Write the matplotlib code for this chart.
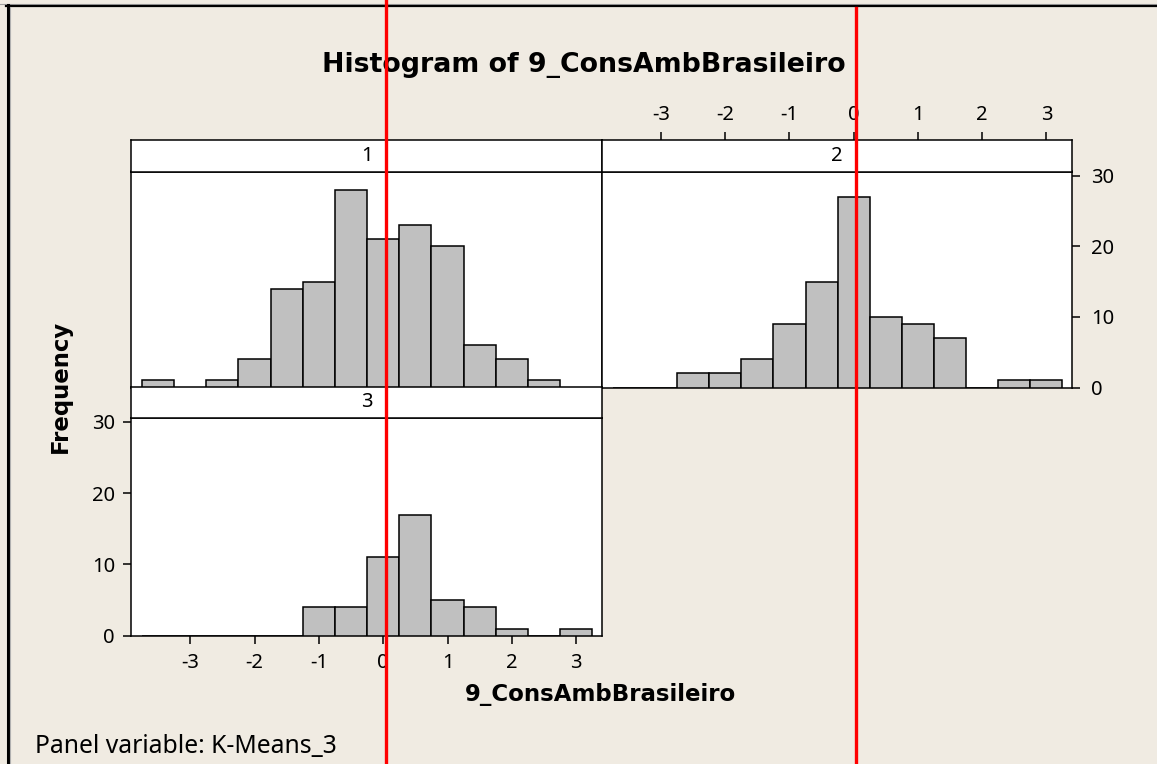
import matplotlib
matplotlib.use("Agg")
import matplotlib.pyplot as plt
from matplotlib.lines import Line2D
from matplotlib.transforms import blended_transform_factory

# ---------------- data ----------------
bin_centers = [-3.5, -3.0, -2.5, -2.0, -1.5, -1.0, -0.5, 0.0, 0.5, 1.0, 1.5, 2.0, 2.5, 3.0]
bin_width = 0.5
counts_1 = [1, 0, 1, 4, 14, 15, 28, 21, 23, 20, 6, 4, 1, 0]
counts_2 = [0, 0, 2, 2, 4, 9, 15, 27, 10, 9, 7, 0, 1, 1]
counts_3 = [0, 0, 0, 0, 0, 4, 4, 11, 17, 5, 4, 1, 0, 1]
panel_labels = ["1", "2", "3"]
x_ticks = [-3, -2, -1, 0, 1, 2, 3]
y_ticks = [0, 10, 20, 30]
reference_x = 0.04
title = "Histogram of 9_ConsAmbBrasileiro"
x_label = "9_ConsAmbBrasileiro"
y_label = "Frequency"
footnote = "Panel variable: K-Means_3"

# ---------------- style ----------------
BG = "#F0EBE2"
BAR = "#C0C0C0"
plt.rcParams["font.family"] = ["Noto Sans", "DejaVu Sans"]
BOLD_FAMILY = ["DejaVu Sans"]
W, H = 1157, 764
fig = plt.figure(figsize=(W / 100, H / 100), dpi=100, facecolor=BG)


def rect(x0, y0, x1, y1):
    return [x0 / W, 1 - y1 / H, (x1 - x0) / W, (y1 - y0) / H]


XLIM = (-3.92, 3.40)
YLIM = (0, 30.6)
LW = 1.1
TICKSIZE = 14.5

ax1 = fig.add_axes(rect(131, 171.5, 602, 387.5))
ax2 = fig.add_axes(rect(602, 171.5, 1072, 387.5))
ax3 = fig.add_axes(rect(131, 417.7, 602, 635.7))

for ax, cnt in ((ax1, counts_1), (ax2, counts_2), (ax3, counts_3)):
    ax.set_facecolor("white")
    ax.bar(bin_centers, cnt, width=bin_width, color=BAR, edgecolor="black",
           linewidth=LW, align="center", zorder=3)
    ax.set_xlim(*XLIM)
    ax.set_ylim(*YLIM)
    for s in ax.spines.values():
        s.set_linewidth(LW)
        s.set_color("black")
    ax.tick_params(direction="out", length=5.5, width=LW, labelsize=TICKSIZE,
                   pad=6, colors="black")
    ax.set_xticks([])
    ax.set_yticks([])

ax2.set_yticks(y_ticks)
ax2.set_yticklabels([str(t) for t in y_ticks])
ax2.yaxis.tick_right()
ax2.tick_params(axis="y", pad=8)

ax3.set_xticks(x_ticks)
ax3.set_xticklabels([str(t) for t in x_ticks])
ax3.set_yticks(y_ticks)
ax3.set_yticklabels([str(t) for t in y_ticks])
ax3.tick_params(axis="x", pad=7)
ax3.tick_params(axis="y", pad=6)

# strips
strips = [rect(131, 140, 602, 171.5), rect(602, 140, 1072, 171.5), rect(131, 387.3, 602, 417.7)]
strip_axes = []
for r, lab in zip(strips, panel_labels):
    sa = fig.add_axes(r)
    sa.set_facecolor("white")
    sa.set_xlim(*XLIM)
    sa.set_ylim(0, 1)
    sa.set_xticks([])
    sa.set_yticks([])
    for s in sa.spines.values():
        s.set_linewidth(LW)
    sa.text(0.5, 0.5, lab, ha="center", va="center", fontsize=TICKSIZE,
            transform=sa.transAxes)
    strip_axes.append(sa)

# top axis ticks sit above panel 2's strip
s2 = strip_axes[1]
s2.set_xticks(x_ticks)
s2.set_xticklabels([str(t) for t in x_ticks])
s2.xaxis.tick_top()
s2.tick_params(axis="x", direction="out", length=5.5, width=LW,
               labelsize=TICKSIZE, pad=5, colors="black")

# texts
t_title = fig.text(583.5 / W, 1 - 72 / H, title, ha="center", va="baseline",
                   fontweight="bold", fontsize=20, family=BOLD_FAMILY)
t_xl = fig.text(600 / W, 1 - 700.7 / H, x_label, ha="center", va="baseline",
                fontweight="bold", fontsize=17, family=BOLD_FAMILY)
t_yl = fig.text(60.5 / W, 1 - 386.5 / H, y_label, ha="center", va="center",
                rotation=90, fontweight="bold", fontsize=17, family=BOLD_FAMILY)
t_fn = fig.text(35 / W, 1 - 753 / H, footnote, ha="left", va="baseline",
                fontsize=17)

fig.canvas.draw()
renderer = fig.canvas.get_renderer()


def fit(t, target, use_height=False):
    bb = t.get_window_extent(renderer)
    size = bb.height if use_height else bb.width
    t.set_fontsize(t.get_fontsize() * target / size)


fit(t_title, 523)
fit(t_xl, 272)
fit(t_yl, 133, use_height=True)
fit(t_fn, 302)

# outer frame (screenshot border)
fig.add_artist(Line2D([0, 1], [1 - 4.3 / H, 1 - 4.3 / H], transform=fig.transFigure,
                      color="#A0A0A0", lw=0.8))
fig.add_artist(Line2D([6 / W, 1], [1 - 6 / H, 1 - 6 / H], transform=fig.transFigure,
                      color="black", lw=1.6))
fig.add_artist(Line2D([7.5 / W, 7.5 / W], [0, 1 - 5 / H], transform=fig.transFigure,
                      color="black", lw=2.2))
fig.add_artist(Line2D([9.8 / W, 9.8 / W], [0, 1 - 7 / H], transform=fig.transFigure,
                      color="#B0B0B0", lw=0.8))

# red reference lines
for ax, ytop in ((ax1, 1.0), (ax2, 1 - 8 / H)):
    tr = blended_transform_factory(ax.transData, fig.transFigure)
    fig.add_artist(Line2D([reference_x, reference_x], [0, ytop], transform=tr,
                          color="#FF0000", lw=2.4, zorder=100))

fig.savefig("out.png", dpi=100, facecolor=BG)
